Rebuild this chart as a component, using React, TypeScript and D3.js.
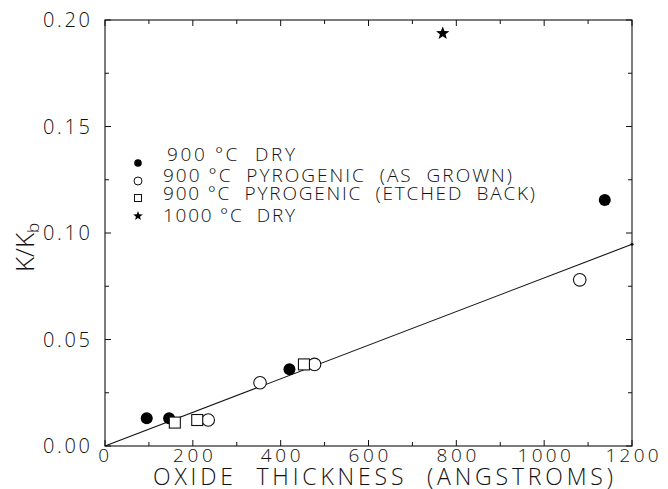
import React from "react";
import * as d3 from "d3";

const dry900X = [95, 146, 420, 1138];
const dry900Y = [0.013, 0.013, 0.036, 0.1155];
const pyroGrownX = [235, 353, 477, 1081];
const pyroGrownY = [0.0122, 0.0297, 0.0383, 0.078];
const pyroEtchX = [159, 210, 453];
const pyroEtchY = [0.011, 0.0122, 0.0383];
const dry1000X = [769];
const dry1000Y = [0.1937];
const fitX = [0, 1200];
const fitY = [0, 0.0947];
const xTicks = [0, 200, 400, 600, 800, 1000, 1200];
const yTicks = [0, 0.05, 0.1, 0.15, 0.2];
const NB = "\u00A0";
const legendLabels = [
  `900 °C${NB}${NB}DRY`,
  `900 °C${NB}${NB}PYROGENIC${NB}${NB}(AS${NB}${NB}GROWN)`,
  `900 °C${NB}${NB}PYROGENIC${NB}${NB}(ETCHED${NB}${NB}BACK)`,
  `1000 °C${NB}${NB}DRY`,
];
const xTitle = `OXIDE${NB}${NB}THICKNESS${NB}${NB}(ANGSTROMS)`;

const W = 668, H = 489;
const L = 105, R = 632, T = 20, B = 446;
const FONT = "'Open Sans', 'DejaVu Sans', sans-serif";

function starPath(cx: number, cy: number, r: number) {
  const pts: string[] = [];
  for (let i = 0; i < 10; i++) {
    const rr = i % 2 === 0 ? r : r * 0.42;
    const a = -Math.PI / 2 + (i * Math.PI) / 5;
    pts.push(`${cx + rr * Math.cos(a)},${cy + rr * Math.sin(a)}`);
  }
  return "M" + pts.join("L") + "Z";
}

export default function App() {
  const x = d3.scaleLinear().domain([0, 1200]).range([L, R]);
  const y = d3.scaleLinear().domain([0, 0.2]).range([B, T]);
  const xMinor = d3.range(0, 1201, 100);
  const yMinor = d3.range(0, 0.2001, 0.025);
  const line = d3.line<number>().x((d) => x(fitX[d])).y((d) => y(fitY[d]));
  const stroke = "#111";
  const legendSymY = [163, 181, 198, 216];
  const legendBase = [161, 182, 200, 222];
  const legendTextX = [167, 163, 163, 163];
  const legendLen = [128, 349, 372, 132];
  const txt = { fontFamily: FONT, fontWeight: 300, fill: "#111" } as const;
  const fmtY = d3.format(".2f");

  return (
    <svg width={W} height={H} style={{ position: "absolute", left: 0, top: 0, background: "#fff" }}>
      <rect x={L} y={T} width={R - L} height={B - T} fill="none" stroke={stroke} strokeWidth={1.1} />
      {xMinor.map((v) => {
        const major = v % 200 === 0;
        const len = major ? 6 : 4;
        return (
          <g key={"x" + v}>
            <line x1={x(v)} x2={x(v)} y1={B} y2={B - len} stroke={stroke} strokeWidth={1} />
            <line x1={x(v)} x2={x(v)} y1={T} y2={T + len} stroke={stroke} strokeWidth={1} />
          </g>
        );
      })}
      {yMinor.map((v, i) => {
        const len = i % 2 === 0 ? 6 : 4;
        return (
          <g key={"y" + i}>
            <line x1={L} x2={L + len} y1={y(v)} y2={y(v)} stroke={stroke} strokeWidth={1} />
            <line x1={R} x2={R - len} y1={y(v)} y2={y(v)} stroke={stroke} strokeWidth={1} />
          </g>
        );
      })}
      {xTicks.map((v) => {
        const s = String(v);
        const len = s.length * 13.3;
        return (
          <text key={"xt" + v} x={x(v) - len / 2} y={462} fontSize={19} textLength={len} lengthAdjust="spacing" {...txt}>
            {s}
          </text>
        );
      })}
      {yTicks.map((v) => (
        <text key={"yt" + v} x={43} y={y(v) + 7} fontSize={20} textLength={47} lengthAdjust="spacing" {...txt}>
          {fmtY(v)}
        </text>
      ))}
      <text x={153} y={485} fontSize={23} textLength={460} lengthAdjust="spacing" {...txt}>
        {xTitle}
      </text>
      <text transform={`translate(34,${272}) rotate(-90)`} fontSize={26} {...txt}>
        K/K<tspan fontSize={17} dy={5}>b</tspan>
      </text>
      <path d={line([0, 1]) || ""} fill="none" stroke={stroke} strokeWidth={1.1} />
      <circle cx={x(fitX[1])} cy={y(fitY[1])} r={1.5} fill={stroke} />
      {dry900X.map((v, i) => (
        <circle key={"a" + i} cx={x(v)} cy={y(dry900Y[i])} r={6} fill="#000" />
      ))}
      {pyroGrownX.map((v, i) => (
        <circle key={"b" + i} cx={x(v)} cy={y(pyroGrownY[i])} r={6.3} fill="#fff" stroke={stroke} strokeWidth={1.1} />
      ))}
      {pyroEtchX.map((v, i) => (
        <rect key={"c" + i} x={x(v) - 5.5} y={y(pyroEtchY[i]) - 5.5} width={11} height={11} fill="#fff" stroke={stroke} strokeWidth={1.1} />
      ))}
      {dry1000X.map((v, i) => (
        <path key={"d" + i} d={starPath(x(v), y(dry1000Y[i]), 7)} fill="#000" />
      ))}
      <circle cx={138} cy={legendSymY[0]} r={3.8} fill="#000" />
      <circle cx={138} cy={legendSymY[1]} r={4} fill="none" stroke={stroke} strokeWidth={1} />
      <rect x={134.5} y={legendSymY[2] - 3.5} width={7} height={7} fill="none" stroke={stroke} strokeWidth={1} />
      <path d={starPath(138, legendSymY[3], 5)} fill="#000" />
      {legendLabels.map((s, i) => (
        <text key={"l" + i} x={legendTextX[i]} y={legendBase[i]} fontSize={19} textLength={legendLen[i]} lengthAdjust="spacing" {...txt}>
          {s}
        </text>
      ))}
    </svg>
  );
}
